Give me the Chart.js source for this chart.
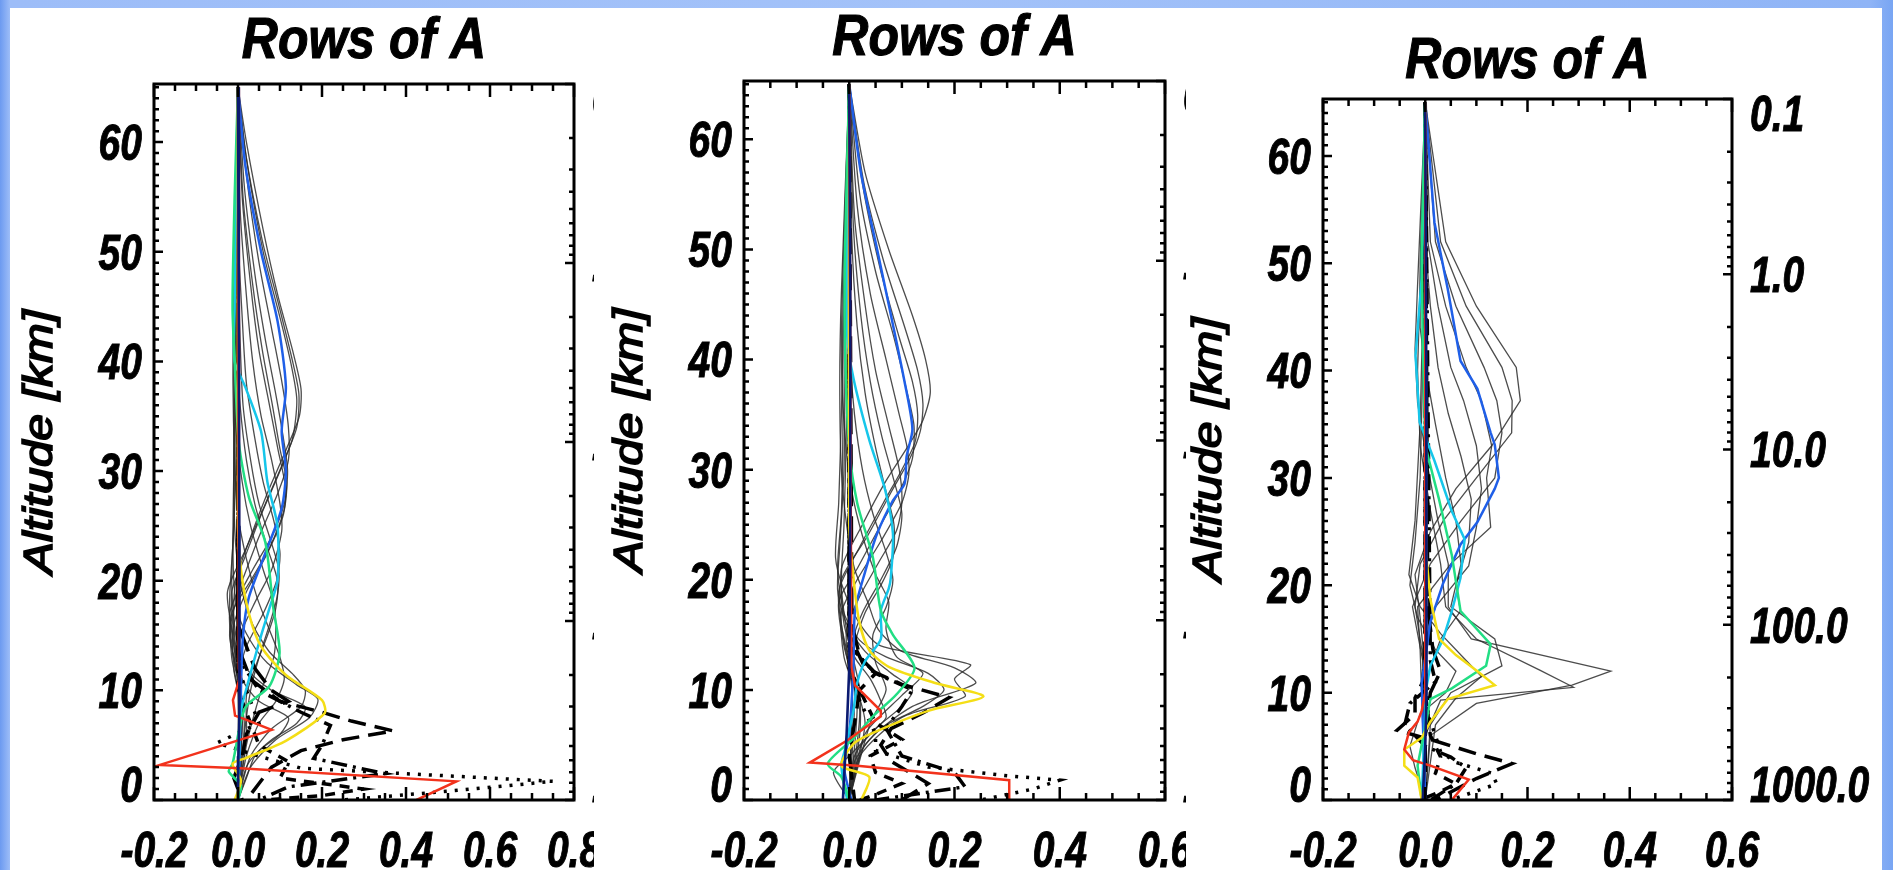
<!DOCTYPE html>
<html>
<head>
<meta charset="utf-8">
<title>Rows of A</title>
<script src="https://cdn.jsdelivr.net/npm/chart.js@4.4.1/dist/chart.umd.min.js"></script>
<style>
  html, body { margin: 0; padding: 0; background: #fff; }
  #page {
    position: relative; width: 1893px; height: 870px; overflow: hidden;
    background: linear-gradient(90deg, #6c9af0 0px, #9dbdf8 10px, #a3c2f9 50%, #8fb4f6 1870px, #78a5f3 100%);
  }
  #sheet { position: absolute; left: 10px; top: 8px; width: 1872px; height: 862px; background: #fff; }
  .panel { position: absolute; top: 8px; }
  .panel canvas { display: block; }
</style>
</head>
<body>
<div id="page">
  <div id="sheet"></div>
  <div class="panel" style="left:10px; z-index:1"><canvas id="c1" width="584" height="862"></canvas></div>
  <div class="panel" style="left:594px; z-index:2"><canvas id="c2" width="592" height="862"></canvas></div>
  <div class="panel" style="left:1186px; z-index:3"><canvas id="c3" width="696" height="862"></canvas></div>
</div>
<script>
const FONT = '"Liberation Sans", Arial, Helvetica, sans-serif';
const ALT_MAX = 65.3;
const ALT_TICKS = [0, 10, 20, 30, 40, 50, 60];
const P_TICKS = [0.1, 1, 10, 100, 1000];
const P_LABELS = ["0.1", "1.0", "10.0", "100.0", "1000.0"];
const X_TICKS_1 = [-0.2, 0.0, 0.2, 0.4, 0.6, 0.8];
const X_TICKS_23 = [-0.2, 0.0, 0.2, 0.4, 0.6];

// each row of A: [altitude km, kernel value]
const p1Grey = [
  [[65,0],[60,0.02],[52,0.06],[46,0.095],[41,0.13],[37.5,0.15],[35,0.146],[32,0.115],[28,0.07],[24,0.03],[20,-0.005],[16,-0.01],[12,0],[8,0.005],[0,0]],
  [[65,0],[59,0.018],[51,0.058],[45,0.098],[40,0.13],[37,0.145],[34,0.14],[31,0.11],[27,0.065],[23,0.02],[19,-0.025],[15,-0.012],[10,0],[0,0]],
  [[65,0],[58,0.022],[50,0.06],[44,0.1],[40,0.125],[36.5,0.14],[33,0.13],[30,0.1],[26,0.055],[22,0.015],[19,-0.015],[15,-0.01],[10,0.005],[0,0]],
  [[65,0],[57,0.02],[49,0.05],[43,0.08],[38,0.105],[34,0.12],[31,0.12],[28,0.095],[24,0.05],[20,0.01],[17,-0.02],[13,-0.01],[9,0.01],[0,0]],
  [[65,0],[56,0.015],[48,0.04],[42,0.065],[37,0.09],[33,0.108],[30,0.118],[27,0.11],[24,0.08],[21,0.035],[18,-0.005],[15,-0.02],[11,0],[0,0]],
  [[65,0],[55,0.012],[47,0.035],[41,0.058],[36,0.082],[32,0.1],[29,0.116],[26.5,0.11],[23,0.075],[20,0.03],[17,-0.015],[13,-0.015],[9,0.005],[0,0]],
  [[65,0],[55,0.01],[47,0.03],[41,0.05],[36,0.075],[32,0.095],[28.5,0.113],[26,0.108],[22.5,0.07],[19,0.02],[16,-0.01],[13,-0.012],[9,0.01],[0,0]],
  [[65,0],[54,0.005],[46,0.02],[40,0.035],[35,0.055],[31,0.08],[27,0.1],[24.5,0.104],[21,0.08],[18,0.04],[15,0.005],[12,-0.01],[8,0.01],[0,0]],
  [[65,0],[52,0],[44,0.01],[38,0.02],[33,0.04],[29,0.06],[25.5,0.085],[22.5,0.1],[20,0.092],[17,0.06],[14,0.02],[11,0],[7,0.015],[0,0]],
  [[65,0],[50,0],[42,0.005],[36,0.012],[31,0.03],[27,0.05],[24,0.075],[21,0.097],[18.5,0.093],[16,0.075],[13,0.05],[10,0.03],[6,0.015],[0,0]],
  [[65,0],[50,-0.005],[42,-0.005],[36,0.005],[31,0.02],[27,0.04],[23,0.07],[20,0.094],[17.5,0.09],[15,0.07],[12,0.04],[9.5,0.02],[6,0.02],[0,0]],
  [[65,0],[48,-0.01],[40,-0.01],[34,-0.005],[29,0.01],[25,0.03],[21,0.06],[18,0.085],[15.5,0.09],[13,0.085],[10.5,0.06],[8,0.04],[5,0.02],[0,0]],
  [[65,0],[46,-0.01],[38,-0.012],[31,-0.008],[26,0],[22,0.02],[18.5,0.045],[15.5,0.075],[13,0.1],[11,0.11],[9,0.09],[7,0.05],[4,0.02],[0,0]],
  [[65,0],[44,-0.008],[35,-0.01],[28,-0.01],[23,-0.005],[19,0.01],[16,0.035],[13.5,0.075],[11.5,0.13],[10,0.16],[8.5,0.15],[6.5,0.08],[4,0.03],[0,0]],
  [[65,0],[40,-0.005],[30,-0.01],[24,-0.012],[20,-0.01],[17,0],[14.5,0.03],[12.5,0.07],[10.5,0.14],[9.2,0.19],[7.5,0.17],[5.5,0.09],[3,0.03],[0,0]],
  [[65,0],[30,-0.005],[20,-0.015],[15,-0.005],[12,0.02],[10,0.08],[8.5,0.16],[7,0.14],[5.5,0.08],[4,0.04],[2,0.02],[0,0]],
  [[65,0],[25,-0.01],[18,-0.02],[14,-0.01],[11,0.01],[9,0.05],[7.5,0.12],[6,0.1],[4.5,0.05],[3,0.02],[0,0]]
];
const p1Black = [
  [[65,0],[14,0],[11,0.03],[9,0.1],[8,0.2],[7.2,0.27],[6.3,0.37],[5.5,0.25],[4.5,0.15],[3,0.08],[1.5,0.05],[0,0.02]],
  [[65,0],[12,0],[9,0.03],[7,0.05],[5.2,-0.05],[4,0.05],[2.9,0.15],[1.7,0.75],[0.8,0.5],[0,0.25]],
  [[65,0],[13,0],[10,0.05],[8,0.15],[6.8,0.22],[5,0.2],[3.8,0.18],[2.4,0.35],[1.2,0.12],[0,0.05]],
  [[65,0],[10,0],[7,0.03],[5,0.05],[3.5,0.12],[2,0.1],[1,0.3],[0.4,0.2],[0,0.06]],
  [[65,0],[16,0],[12,0.04],[10,0.08],[9,0.12],[8,0.05],[6,0.02],[4,0.01],[2,-0.01],[0,0.01]]
];
const p1Blue = [[65,0],[58,0.017],[50,0.055],[43.7,0.094],[37.7,0.114],[33.6,0.104],[30,0.114],[26.6,0.104],[22.5,0.065],[18.5,0.026],[15,0.012],[10,0.007],[0,0.002]];
const p1Cyan = [[65,0],[55,-0.005],[45,-0.008],[40,-0.008],[37.7,0.017],[33.6,0.055],[29,0.07],[25,0.094],[20,0.094],[17.5,0.075],[15,0.055],[11,0.026],[8,0.007],[0,0]];
const p1Green = [[65,0],[55,-0.008],[45,-0.013],[40,-0.008],[32.6,0.002],[27.6,0.026],[23.5,0.065],[17.5,0.084],[13.4,0.099],[10.4,0.075],[8.4,0.017],[3.3,-0.013],[2.6,-0.022],[1.3,0.007],[0,0]];
const p1Yellow = [[65,0],[25,0],[21,0.007],[17,0.026],[14,0.055],[11.4,0.114],[9.1,0.2],[7.9,0.206],[5.4,0.114],[3.8,0.017],[3.3,-0.013],[1.8,0.007],[0,-0.008]];
const p1Red = [[65,0],[12,0.002],[11.2,0.005],[9.1,-0.012],[7.7,-0.007],[7.3,0.02],[6.4,0.08],[3.2,-0.186],[2.9,0.005],[1.7,0.52],[0,0.425]];
const p1Navy = [[65,0],[45,0.002],[25,0.003],[12,0.004],[8,0.003],[4,0.001],[0,0]];

const p2Grey = [
  [[65,0],[57,0.03],[50,0.075],[44,0.12],[40,0.145],[37,0.154],[34.5,0.14],[32,0.11],[29,0.07],[25,0.025],[21,-0.015],[17,-0.01],[12,0.005],[0,0]],
  [[65,0],[56,0.028],[49,0.065],[43,0.105],[39,0.13],[36,0.14],[33.5,0.135],[31,0.115],[28,0.08],[24,0.035],[20,-0.015],[16,-0.015],[11,0.005],[0,0]],
  [[65,0],[56,0.025],[48,0.06],[42,0.095],[38,0.12],[35,0.13],[32.5,0.125],[30,0.1],[27,0.065],[23,0.02],[19,-0.02],[15,-0.012],[10,0.005],[0,0]],
  [[65,0],[55,0.02],[48,0.05],[42,0.085],[37,0.11],[34,0.123],[31,0.12],[28.5,0.1],[25,0.06],[21,0.015],[18,-0.02],[14,-0.01],[10,0.01],[0,0]],
  [[65,0],[54,0.015],[46,0.04],[40,0.07],[35,0.095],[32,0.11],[29.5,0.113],[27,0.1],[23.5,0.06],[20,0.015],[17,-0.015],[13,-0.01],[9,0.015],[0,0]],
  [[65,0],[53,0.01],[45,0.03],[39,0.05],[34,0.075],[30,0.095],[27,0.1],[24.5,0.09],[21.5,0.055],[18.5,0.02],[15.5,-0.005],[12,0],[8,0.02],[0,0]],
  [[65,0],[52,0.008],[44,0.022],[38,0.04],[33,0.062],[29,0.085],[26,0.1],[23,0.09],[20,0.06],[17,0.025],[14,0.005],[10,0.02],[6,0.02],[0,0]],
  [[65,0],[51,0.005],[43,0.015],[37,0.03],[32,0.05],[28,0.07],[25,0.085],[22,0.083],[19.5,0.06],[17,0.03],[14,0.01],[11,0.01],[7,0.03],[0,0]],
  [[65,0],[49,-0.005],[41,0],[35,0.01],[30,0.025],[26,0.045],[22.5,0.07],[20,0.083],[17.5,0.07],[15,0.045],[12.5,0.05],[10,0.07],[7,0.04],[0,0]],
  [[65,0],[48,-0.012],[40,-0.015],[33,-0.008],[28,0.005],[24,0.025],[20.5,0.05],[18,0.075],[15.5,0.07],[13,0.09],[11.5,0.14],[9.5,0.1],[6,0.03],[0,0]],
  [[65,0],[46,-0.015],[38,-0.018],[30,-0.015],[25,-0.005],[21,0.01],[18,0.035],[15.5,0.055],[13.5,0.1],[12,0.2],[10.6,0.24],[8.5,0.12],[5,0.03],[0,0]],
  [[65,0],[45,-0.01],[35,-0.015],[27,-0.02],[22,-0.026],[19,-0.01],[16,0.02],[14,0.06],[12.3,0.23],[11,0.2],[9.4,0.22],[7.5,0.1],[4,0.02],[0,0]],
  [[65,0],[44,-0.012],[34,-0.012],[26,-0.015],[21,-0.022],[17,-0.01],[14.5,0.02],[13,0.07],[11.5,0.15],[10,0.18],[8.5,0.14],[6.5,0.06],[3.5,0.01],[0,0]],
  [[65,0],[40,-0.008],[30,-0.01],[23,-0.018],[19,-0.022],[16,-0.005],[13.5,0.03],[11.5,0.08],[10,0.12],[8.5,0.1],[6.5,0.05],[4,0.01],[0,0]],
  [[65,0],[35,-0.005],[25,-0.01],[20,-0.015],[16,-0.01],[13,0.01],[11,0.04],[9,0.06],[7.5,0.07],[6,0.04],[4,0],[2.5,-0.03],[0,0]]
];
const p2Black = [
  [[65,0],[15,0],[12,0.03],[10.5,0.1],[9.3,0.19],[7.9,0.14],[6.5,0.08],[5,0.06],[3.5,0.08],[1.5,0.15],[0,0.1]],
  [[65,0],[12,0],[9,0.02],[6,0.05],[4.5,0.05],[3,0.15],[2.2,0.3],[1.8,0.4],[1,0.35],[0,0.25]],
  [[65,0],[14,0],[11.5,0.05],[10,0.12],[8.5,0.1],[6.5,0.07],[4,0.1],[2.5,0.2],[1.2,0.22],[0,0.05]],
  [[65,0],[12,0],[9,0.03],[7,0.05],[5.5,0.1],[4,0.04],[2.5,0.05],[1.5,0.1],[0.5,0.05],[0,0.02]],
  [[65,0],[16,0.005],[13,0.02],[11.5,0.05],[10,0.02],[7,0.01],[4,0],[0,0.01]]
];
const p2Blue = [[65,0],[57,0.022],[50,0.053],[45,0.075],[38,0.105],[33.7,0.12],[31.2,0.109],[28.7,0.105],[27.2,0.083],[24.2,0.053],[20.7,0.03],[17.2,0.011],[12.1,0.008],[6,0],[3,-0.01],[0,0.004]];
const p2Cyan = [[65,0],[50,-0.004],[42.3,-0.004],[38.3,0.008],[32.7,0.038],[28.2,0.068],[24.2,0.083],[20.2,0.079],[19.2,0.075],[17.2,0.06],[14.6,0.06],[12.6,0.03],[10.6,0.015],[8.1,0.008],[4.6,-0.008],[3.1,-0.015],[0,-0.004]];
const p2Green = [[65,0],[50,-0.008],[41,-0.008],[32,0],[27,0.015],[22,0.045],[17.2,0.06],[15,0.083],[12,0.124],[9.6,0.09],[7.6,0.045],[5.6,0.008],[3.3,-0.041],[2.1,-0.015],[0,0]];
const p2Yellow = [[65,0],[25,0],[20.2,0.008],[16.2,0.019],[13.6,0.038],[12.1,0.075],[10.6,0.165],[9.4,0.255],[8.1,0.15],[6.1,0.045],[5.1,0.008],[3.1,-0.015],[2.1,0.038],[0,0.023]];
const p2Red = [[65,0],[12.1,0.004],[10.4,0.011],[8.1,0.06],[7.6,0.06],[5.4,-0.004],[3.4,-0.075],[3.1,0.015],[1.8,0.304],[0,0.304]];
const p2Navy = [[65,0],[45,0.002],[25,0.002],[12,0],[6,-0.005],[2,-0.01],[0,-0.012]];

const p3Grey = [
  [[65,0],[52,0.04],[46,0.1],[40.3,0.178],[37.2,0.186],[33,0.13],[29,0.06],[25,0.01],[21,-0.02],[17,-0.01],[12,0],[0,0]],
  [[65,0],[52,0.03],[46,0.08],[40.3,0.15],[37.2,0.17],[34.2,0.169],[30,0.1],[26,0.035],[22,-0.01],[18,-0.02],[12,0],[0,0]],
  [[65,0],[52,0.02],[46,0.06],[40.3,0.115],[37.2,0.14],[34.2,0.15],[30,0.136],[26,0.07],[22,0.01],[18,-0.025],[13,-0.005],[0,0]],
  [[65,0],[52,0.01],[46,0.04],[40.3,0.08],[37.2,0.11],[33,0.13],[30,0.12],[25.4,0.128],[22,0.05],[18,-0.015],[14,-0.01],[0,0]],
  [[65,0],[52,0.005],[46,0.025],[40.3,0.05],[37.2,0.075],[33,0.1],[29,0.11],[25.4,0.1],[21.8,0.085],[18,0.02],[14,-0.005],[0,0]],
  [[65,0],[52,0],[46,0.01],[40.3,0.025],[36,0.045],[32,0.07],[28,0.09],[24,0.085],[20,0.06],[17.6,0.069],[15,0.03],[11,0],[0,0]],
  [[65,0],[50,-0.01],[44,-0.01],[40.3,0],[35,0.02],[30,0.04],[26,0.06],[22,0.07],[18,0.05],[15,0.136],[12.5,0.15],[10,0.05],[7,0.01],[0,0]],
  [[65,0],[48,-0.015],[42,-0.02],[37,-0.015],[31,0.005],[26,0.025],[22,0.045],[18,0.045],[15,0.09],[12,0.363],[10.7,0.287],[9,0.1],[6,0.01],[0,0]],
  [[65,0],[48,-0.01],[40,-0.015],[33,-0.01],[27,0.01],[22,0.03],[18,0.04],[15,0.1],[12.1,0.224],[10.5,0.29],[9.3,0.03],[6,0],[0,0]],
  [[65,0],[45,-0.005],[35,-0.01],[26,-0.02],[21,-0.032],[18,-0.01],[15.5,0.03],[13,0.08],[11.5,0.11],[9.5,0.06],[7,0.02],[0,0]],
  [[65,0],[40,-0.005],[30,-0.01],[24,-0.02],[20,-0.03],[17,-0.015],[14,0.02],[12,0.06],[10,0.04],[8,-0.01],[5,-0.03],[3,-0.02],[0,0]]
];
const p3Black = [
  [[65,0],[14,0],[11,-0.005],[9.5,-0.02],[8,-0.02],[6.5,-0.055],[5.5,0.02],[4.3,0.1],[3.4,0.17],[2,0.1],[0,0.02]],
  [[65,0],[12,0],[8,0.005],[6,0.02],[4.5,0.03],[3.5,0.06],[2.5,0.13],[1.5,0.14],[0.5,0.08],[0,0.05]],
  [[65,0],[13,0.01],[11,0.02],[9,-0.03],[7,-0.04],[5,0],[4,0.05],[3,0.08],[1.5,0.06],[0,0.01]],
  [[65,0],[10,0],[6,0.01],[4,0.03],[2.5,0.02],[1.5,0.06],[0.8,0.03],[0,-0.01]],
  [[65,0],[18,0.005],[14,0.015],[12,0.03],[10,0.01],[6,0],[0,0]]
];
const p3Blue = [[65,0],[53.8,0.018],[47.6,0.044],[40.9,0.069],[38.3,0.102],[34.2,0.128],[33.1,0.136],[30,0.144],[29,0.136],[25.9,0.102],[23.8,0.069],[20.2,0.035],[16.6,0.01],[10.9,-0.007],[0,0]];
const p3Cyan = [[65,0],[48.6,-0.007],[41.4,-0.019],[35.2,-0.011],[31.6,0.018],[26.9,0.052],[24.3,0.077],[20.7,0.069],[17.6,0.052],[15,0.035],[12.5,0.01],[10.4,0.002],[0,-0.007]];
const p3Green = [[65,0],[51,-0.007],[43,-0.005],[33,0],[28,0.027],[22.8,0.052],[17.6,0.069],[14.5,0.128],[12.5,0.119],[10.4,0.052],[9.4,0.01],[7.3,0.002],[3.2,-0.015],[0,-0.007]];
const p3Yellow = [[65,0],[22.8,0.002],[18.7,0.01],[15,0.027],[13.5,0.06],[12,0.102],[10.7,0.136],[9.4,0.044],[7.3,0.01],[5.8,-0.007],[4.7,-0.041],[3.2,-0.041],[2.1,-0.015],[0,-0.007]];
const p3Red = [[65,0],[10,0],[8.3,-0.007],[7.3,-0.015],[6.3,-0.032],[4.7,-0.041],[3.7,-0.024],[3.2,0.01],[1.9,0.085],[0,0.052]];
const p3Navy = [[65,0],[40,0.002],[20,0.002],[10,0.003],[5,0],[0,-0.005]];

const COLORS = {
  grey: "rgba(45,45,45,0.85)", navy: "#0b1a70",
  blue: "#1f5fe8", cyan: "#16c6ea", green: "#22de84", yellow: "#f4de16", red: "#f2321c"
};
const BLACK_DASH = [[18, 9], [3, 8], [16, 6, 3, 6], [10, 8], [26, 10]];

function line(pts, color, width, dash, tension, order) {
  return {
    data: pts.map(([z, a]) => ({ x: a, y: z })),
    showLine: true, fill: false, pointRadius: 0,
    borderColor: color, borderWidth: width, borderDash: dash || [],
    tension: tension, order: order
  };
}

// text squeezed like the old plot device output: taller than it is wide
function stretched(ctx, text, x, y, font, ky, align, weight) {
  ctx.save();
  ctx.translate(x, y);
  ctx.scale(1, ky);
  ctx.font = font;
  ctx.textAlign = align;
  ctx.textBaseline = "alphabetic";
  ctx.fillStyle = "#000";
  ctx.fillText(text, 0, 0);
  if (weight) {
    ctx.strokeStyle = "#000";
    ctx.lineWidth = weight;
    ctx.strokeText(text, 0, 0);
  }
  ctx.restore();
}

// IDL-style box: inward ticks on every side, stretched italic labels
const idlFrame = {
  id: "idlFrame",
  beforeDraw(chart) {
    const ctx = chart.ctx;
    ctx.save();
    ctx.fillStyle = "#fff";
    ctx.fillRect(0, 0, chart.width, chart.height);
    ctx.restore();
  },
  afterDraw(chart, args, o) {
    const { ctx, chartArea: a } = chart;
    const { x, y, p } = chart.scales;
    ctx.save();
    ctx.strokeStyle = "#000";
    ctx.lineWidth = 2.5;
    ctx.beginPath();
    const i0 = Math.round(x.min * 20), i1 = Math.round(x.max * 20);
    for (let i = i0; i <= i1; i++) {
      const px = x.getPixelForValue(i / 20);
      const len = i % 4 === 0 ? 13 : 7;
      ctx.moveTo(px, a.bottom); ctx.lineTo(px, a.bottom - len);
      ctx.moveTo(px, a.top); ctx.lineTo(px, a.top + len);
    }
    for (let z = 0; z <= Math.floor(y.max); z++) {
      const py = y.getPixelForValue(z);
      ctx.moveTo(a.left, py); ctx.lineTo(a.left + (z % 10 === 0 ? 9 : 5), py);
    }
    for (let e = -1; e <= 3; e++) {
      for (let m = 1; m <= 9; m++) {
        const v = m * Math.pow(10, e);
        if (v > 1000.001) break;
        const py = p.getPixelForValue(v);
        ctx.moveTo(a.right, py); ctx.lineTo(a.right - (m === 1 ? 9 : 5), py);
      }
    }
    ctx.stroke();
    ctx.lineWidth = 3;
    ctx.strokeRect(a.left, a.top, a.right - a.left, a.bottom - a.top);
    ctx.restore();

    const tickFont = "bold italic 39px " + FONT;
    const ky = 1.28, cap = 0.716 * 39 * ky;
    o.xTicks.forEach(v => {
      stretched(ctx, v.toFixed(1), x.getPixelForValue(v), a.bottom + 67, tickFont, ky, "center", 0.8);
    });
    ALT_TICKS.forEach(z => {
      const cy = Math.min(y.getPixelForValue(z), a.bottom - 16);
      stretched(ctx, String(z), a.left - 12, cy + cap / 2, tickFont, ky, "right", 0.8);
    });
    P_TICKS.forEach((v, i) => {
      const cy = Math.max(Math.min(p.getPixelForValue(v), a.bottom - 16), a.top + 14);
      stretched(ctx, P_LABELS[i], a.right + 18, cy + cap / 2, tickFont, ky, "left", 0.8);
    });

    stretched(ctx, "Rows of A", (a.left + a.right) / 2, a.top - o.titleGap,
      "bold italic 50px " + FONT, 1.14, "center", 1);

    ctx.save();
    ctx.translate(a.left - 113, (a.top + a.bottom) / 2);
    ctx.rotate(-Math.PI / 2);
    ctx.scale(1.2, 1);
    ctx.font = "italic 40px " + FONT;
    ctx.textAlign = "center";
    ctx.textBaseline = "middle";
    ctx.fillStyle = "#000";
    ctx.strokeStyle = "#000";
    ctx.lineWidth = 1.6;
    ctx.fillText("Altitude [km]", 0, 0);
    ctx.strokeText("Altitude [km]", 0, 0);
    ctx.restore();
  }
};

function makePanel(id, d) {
  const ds = [];
  d.grey.forEach(g => ds.push(line(g, COLORS.grey, 1.3, null, d.tension, 5)));
  d.black.forEach((b, i) => ds.push(line(b, "#000", 3.5, BLACK_DASH[i], 0, 4)));
  ds.push(line(d.red, COLORS.red, 2.5, null, 0, 3));
  ds.push(line(d.yellow, COLORS.yellow, 2.5, null, d.tension, 3));
  ds.push(line(d.green, COLORS.green, 2.5, null, d.tension, 3));
  ds.push(line(d.cyan, COLORS.cyan, 2.5, null, d.tension, 3));
  ds.push(line(d.blue, COLORS.blue, 2.5, null, d.tension, 3));
  ds.push(line(d.navy, COLORS.navy, 2.6, null, 0, 1));

  const hidden = { display: false };
  return new Chart(document.getElementById(id), {
    type: "scatter",
    data: { datasets: ds },
    options: {
      responsive: false,
      animation: false,
      events: [],
      layout: { padding: d.pad },
      scales: {
        x: {
          type: "linear", min: -0.2, max: d.xMax, position: "bottom",
          ticks: hidden, grid: hidden, border: hidden,
          afterFit: s => { s.height = 0; }
        },
        y: {
          type: "linear", min: 0, max: ALT_MAX, position: "left",
          ticks: hidden, grid: hidden, border: hidden,
          afterFit: s => { s.width = 0; }
        },
        p: {
          type: "logarithmic", min: 0.1, max: 1000, reverse: true, position: "right",
          ticks: hidden, grid: hidden, border: hidden,
          afterFit: s => { s.width = 0; }
        }
      },
      plugins: {
        legend: { display: false },
        tooltip: { enabled: false },
        idlFrame: { xTicks: d.xTicks, titleGap: d.titleGap }
      }
    },
    plugins: [idlFrame]
  });
}

makePanel("c1", {
  grey: p1Grey, black: p1Black, blue: p1Blue, cyan: p1Cyan, green: p1Green,
  yellow: p1Yellow, red: p1Red, navy: p1Navy, tension: 0.25,
  xMax: 0.8, xTicks: X_TICKS_1, titleGap: 26,
  pad: { left: 144, right: 20, top: 76, bottom: 70 }
});
makePanel("c2", {
  grey: p2Grey, black: p2Black, blue: p2Blue, cyan: p2Cyan, green: p2Green,
  yellow: p2Yellow, red: p2Red, navy: p2Navy, tension: 0.25,
  xMax: 0.6, xTicks: X_TICKS_23, titleGap: 26,
  pad: { left: 150, right: 21, top: 73, bottom: 70 }
});
makePanel("c3", {
  grey: p3Grey, black: p3Black, blue: p3Blue, cyan: p3Cyan, green: p3Green,
  yellow: p3Yellow, red: p3Red, navy: p3Navy, tension: 0,
  xMax: 0.6, xTicks: X_TICKS_23, titleGap: 21,
  pad: { left: 137, right: 150, top: 91, bottom: 70 }
});
</script>
</body>
</html>
